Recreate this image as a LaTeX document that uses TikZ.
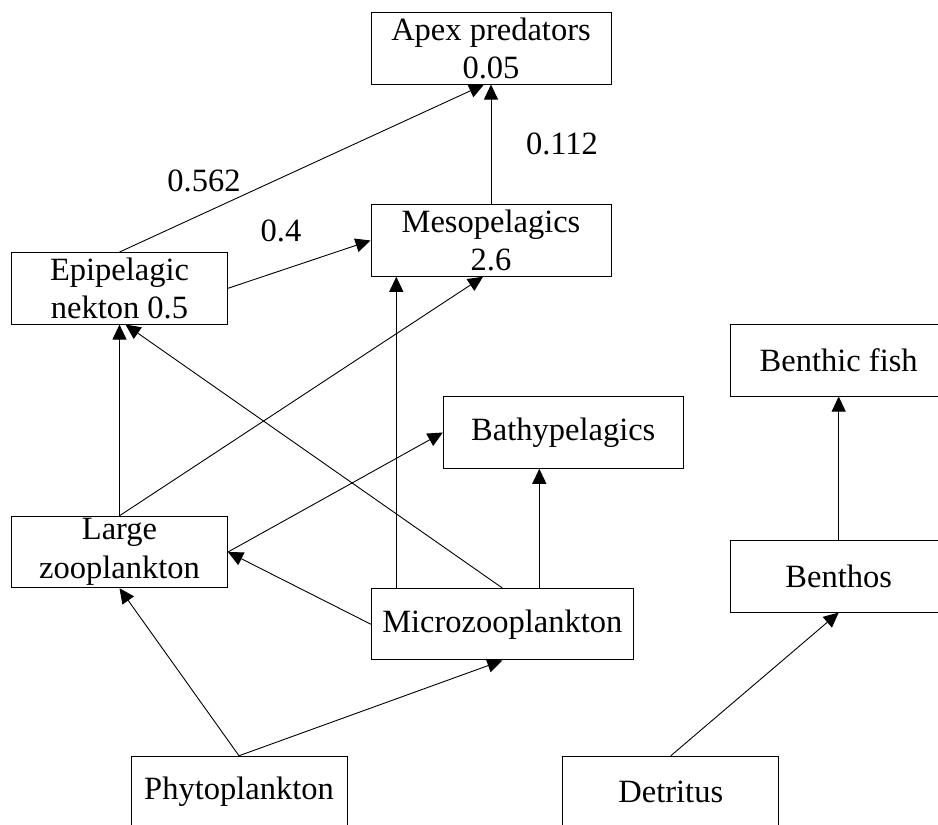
\documentclass[tikz,border=0pt]{standalone}
\usepackage{fontspec}
\setmainfont{Liberation Serif}
\usetikzlibrary{arrows.meta}

\begin{document}
\begin{tikzpicture}[x=1pt,y=-1pt,
    box/.style={draw,line width=1pt,inner sep=0pt,align=center,
      minimum width=216pt,minimum height=71.5pt,font=\fontsize{32.5}{38.5}\selectfont},
    wide/.style={box,minimum width=240pt},
    flow/.style={line width=0.9pt,-{Triangle[length=15pt,width=14pt]}},
    wt/.style={inner sep=0pt,font=\fontsize{32.5}{38.5}\selectfont}]
   %\draw[help lines] (0,0) grid (938,825);
    \useasboundingbox (0,0) rectangle (938,825);
    \node[wide] (apex) at (491,48.3) {Apex predators\\0.05};
    \node[wide] (meso) at (491,240.5) {Mesopelagics\\2.6};
    \node[box] (epi) at (119.5,288.3) {Epipelagic\\nekton 0.5};
    \node[wide] (bathy) at (563.3,432.5) {Bathypelagics};
    \node[box] (bfish) at (838.7,360.3) {Benthic fish};
    \node[box] (lzoo) at (119.5,552) {Large\\zooplankton};
    \node[box,minimum width=262pt] (micro) at (502.3,624.2) {Microzooplankton};
    \node[box] (benthos) at (838.7,576.3) {Benthos};
    \node[box] (phyto) at (239,792) {Phytoplankton};
    \node[box] (detritus) at (670.8,792) {Detritus};

    \draw[flow] (meso.north) -- (apex.south);
    \draw[flow] (epi.north) -- ([xshift=-7pt]apex.south);
    \draw[flow] (epi.east) -- (meso.west);
    \draw[flow] (lzoo.north) -- (epi.south);
    \draw[flow] (lzoo.north) -- ([xshift=-8pt]meso.south);
    \draw[flow] (lzoo.east) -- (bathy.west);
    \draw[flow] (micro.west) -- (lzoo.east);
    \draw[flow] (micro.north) -- ([xshift=6pt]epi.south);
    \draw[flow] ([xshift=-106pt]micro.north) -- ([xshift=-106pt]micro.north |- meso.south);
    \draw[flow] ([xshift=37pt]micro.north) -- ([xshift=37pt]micro.north |- bathy.south);
    \draw[flow] (phyto.north) -- (lzoo.south);
    \draw[flow] (phyto.north) -- (micro.south);
    \draw[flow] (detritus.north) -- (benthos.south);
    \draw[flow] (benthos.north) -- (bfish.south);

    \node[wt] (w562) at (204,181) {0.562};
    \node[wt] (w04) at (281,231) {0.4};
    \node[wt] (w112) at (562,144) {0.112};
\end{tikzpicture}
\end{document}
